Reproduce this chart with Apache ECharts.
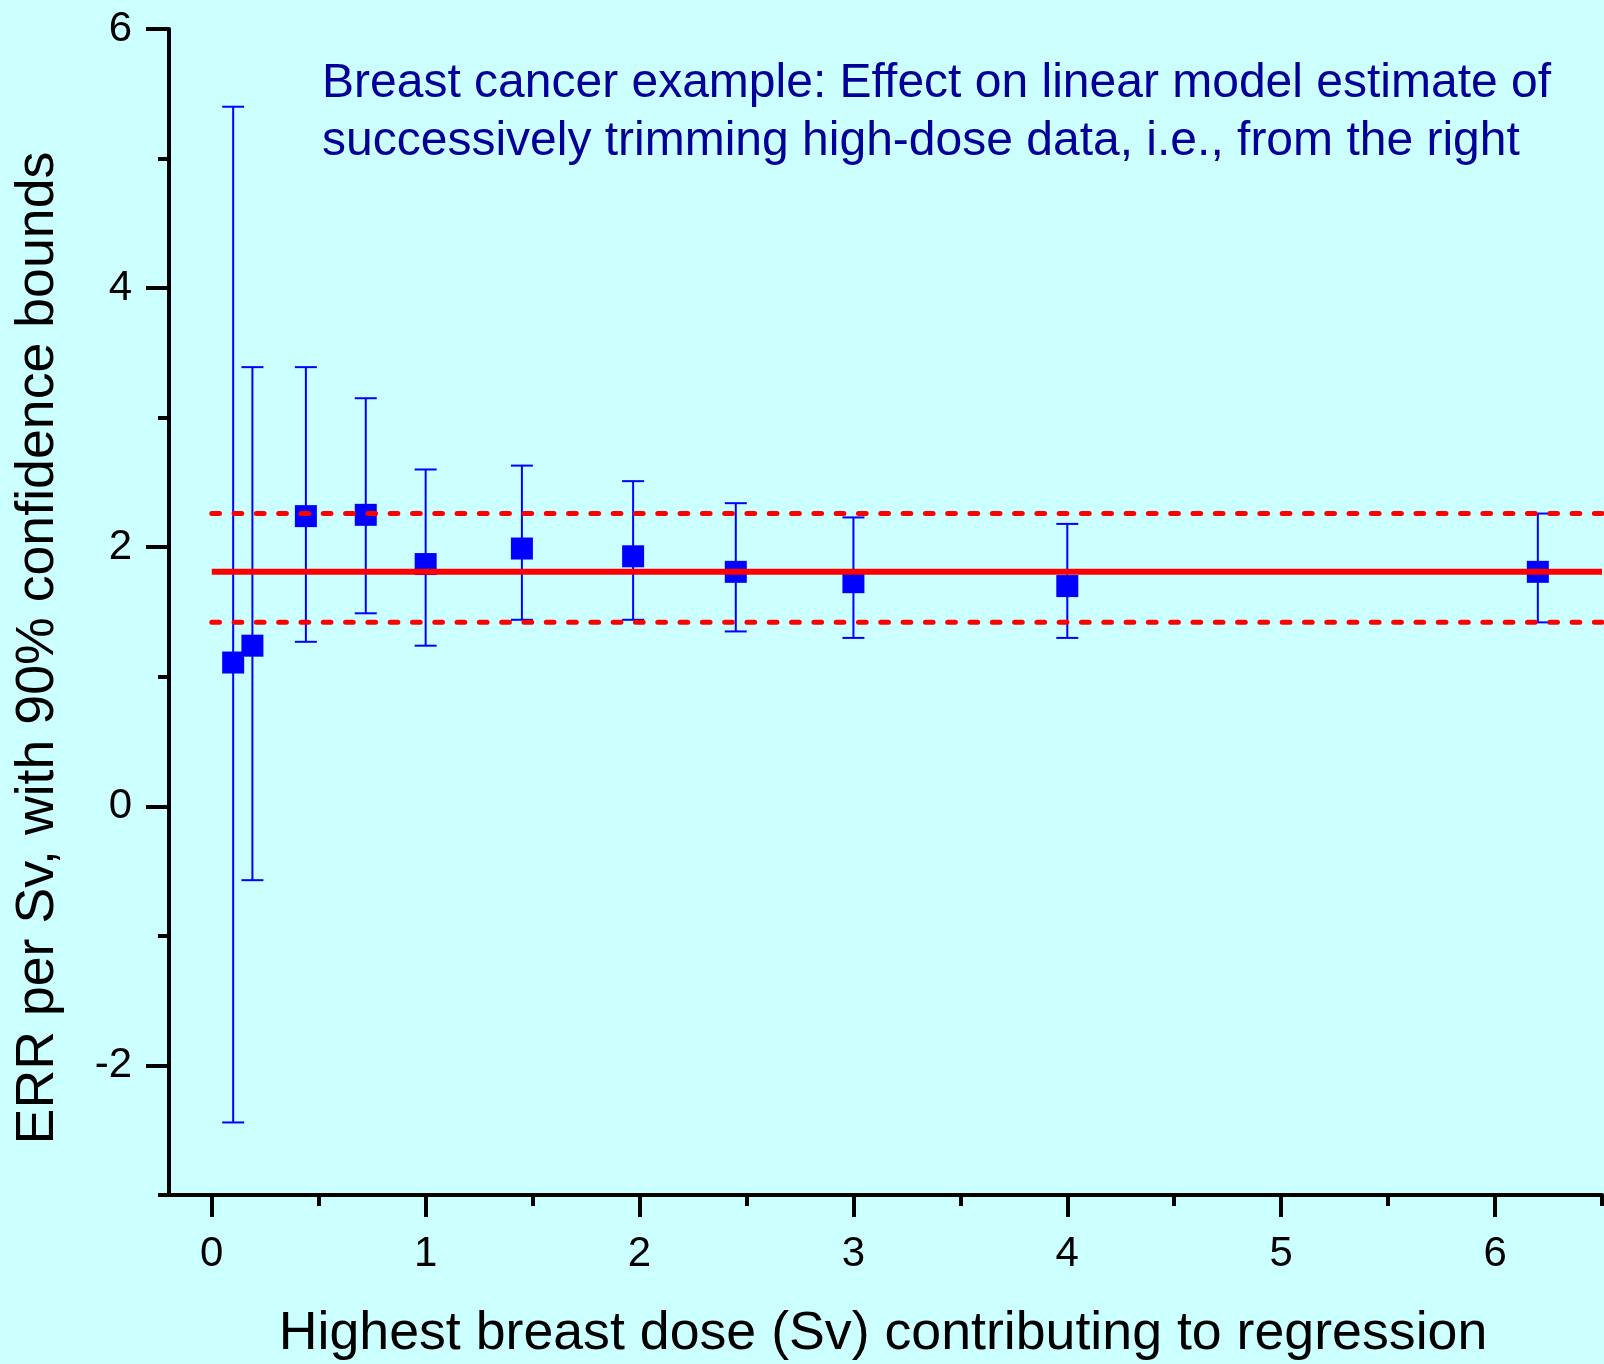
<!DOCTYPE html>
<html>
<head>
<meta charset="utf-8">
<title>Breast cancer ERR per Sv — trimming high-dose data</title>
<script src="https://cdn.jsdelivr.net/npm/echarts@6/dist/echarts.min.js"></script>
<style>
  html, body { margin: 0; padding: 0; background: #CCFFFF; }
  #chart { width: 1604px; height: 1364px; }
</style>
</head>
<body>
<div id="chart"></div>
<script>
// Highest dose kept in each fit (Sv)
const doses = [0.1, 0.19, 0.44, 0.72, 1.0, 1.45, 1.97, 2.45, 3.0, 4.0, 6.2];
// Linear-model ERR per Sv estimate for each trimmed fit
const estimates = [1.11, 1.24, 2.24, 2.25, 1.87, 1.99, 1.93, 1.81, 1.73, 1.70, 1.81];
// 90% confidence bounds
const lowerBounds = [-2.44, -0.57, 1.27, 1.49, 1.24, 1.44, 1.44, 1.35, 1.30, 1.30, 1.42];
const upperBounds = [5.40, 3.39, 3.39, 3.15, 2.60, 2.63, 2.51, 2.34, 2.23, 2.18, 2.26];

// Full-data estimate and its bounds, drawn across the plot
const fullDataEstimate = 1.81;
const fullDataBounds = [1.42, 2.26];

// Axis ticks and labels
const xMajorTicks = [0, 1, 2, 3, 4, 5, 6];
const xMinorTicks = [0.5, 1.5, 2.5, 3.5, 4.5, 5.5, 6.5];
const yMajorTicks = [-2, 0, 2, 4, 6];
const yMinorTicks = [-3, -1, 1, 3, 5];

const xRange = [-0.2, 6.5];
const yRange = [-3, 6];

const titleLines = [
  'Breast cancer example: Effect on linear model estimate of',
  'successively trimming high-dose data, i.e., from the right'
];
const xTitle = 'Highest breast dose (Sv) contributing to regression';
const yTitle = 'ERR per Sv, with 90% confidence bounds';

const FONT = '"Liberation Sans", Arial, Helvetica, sans-serif';

const chart = echarts.init(document.getElementById('chart'), null, { renderer: 'canvas' });

function axisBase(min, max) {
  return {
    type: 'value',
    min: min,
    max: max,
    splitLine: { show: false },
    axisLine: { onZero: false, lineStyle: { color: '#000', width: 4 } },
  };
}

const option = {
  backgroundColor: '#CCFFFF',
  animation: false,
  grid: { left: 169, right: 2, top: 29, bottom: 169, containLabel: false },
  xAxis: [
    Object.assign(axisBase(xRange[0], xRange[1]), {
      position: 'bottom',
      axisTick: { show: true, length: 22, customValues: xMajorTicks, lineStyle: { color: '#000', width: 4 } },
      axisLabel: { show: true, customValues: xMajorTicks, margin: 38, fontSize: 42, fontFamily: FONT, color: '#000' }
    }),
    Object.assign(axisBase(xRange[0], xRange[1]), {
      position: 'bottom',
      axisLine: { show: false, onZero: false },
      axisTick: { show: true, length: 11, customValues: xMinorTicks, lineStyle: { color: '#000', width: 4 } },
      axisLabel: { show: false }
    })
  ],
  yAxis: [
    Object.assign(axisBase(yRange[0], yRange[1]), {
      position: 'left',
      axisTick: { show: true, length: 23, customValues: yMajorTicks, lineStyle: { color: '#000', width: 4 } },
      axisLabel: { show: true, customValues: yMajorTicks, margin: 37, fontSize: 42, fontFamily: FONT, color: '#000' }
    }),
    Object.assign(axisBase(yRange[0], yRange[1]), {
      position: 'left',
      axisLine: { show: false, onZero: false },
      axisTick: { show: true, length: 11, customValues: yMinorTicks, lineStyle: { color: '#000', width: 4 } },
      axisLabel: { show: false }
    })
  ],
  graphic: [
    {
      type: 'text', x: 322, y: 84,
      style: { text: titleLines[0], fontSize: 48, fontFamily: FONT, fill: '#000099', align: 'left', verticalAlign: 'middle' }
    },
    {
      type: 'text', x: 322, y: 142,
      style: { text: titleLines[1], fontSize: 48, fontFamily: FONT, fill: '#000099', align: 'left', verticalAlign: 'middle' }
    },
    {
      type: 'text', x: 883, y: 1334,
      style: { text: xTitle, fontSize: 53.7, fontFamily: FONT, fill: '#000', align: 'center', verticalAlign: 'middle' }
    },
    {
      type: 'text', x: 38, y: 648, rotation: Math.PI / 2,
      style: { text: yTitle, fontSize: 53.7, fontFamily: FONT, fill: '#000', align: 'center', verticalAlign: 'middle' }
    }
  ],
  series: [
    {
      // 90% confidence intervals with end caps
      type: 'custom',
      z: 2,
      data: doses.map((d, i) => [d, lowerBounds[i], upperBounds[i]]),
      renderItem: function (params, api) {
        const x = api.value(0);
        const lo = api.coord([x, api.value(1)]);
        const hi = api.coord([x, api.value(2)]);
        const hw = 11;
        const style = { stroke: '#0000FF', lineWidth: 2 };
        return {
          type: 'group',
          children: [
            { type: 'line', shape: { x1: lo[0], y1: lo[1], x2: hi[0], y2: hi[1] }, style: style },
            { type: 'line', shape: { x1: hi[0] - hw, y1: hi[1], x2: hi[0] + hw, y2: hi[1] }, style: style },
            { type: 'line', shape: { x1: lo[0] - hw, y1: lo[1], x2: lo[0] + hw, y2: lo[1] }, style: style }
          ]
        };
      }
    },
    {
      // point estimates
      type: 'scatter',
      z: 3,
      symbol: 'rect',
      symbolSize: 22,
      itemStyle: { color: '#0000FF', opacity: 1 },
      data: doses.map((d, i) => [d, estimates[i]])
    },
    {
      type: 'line',
      z: 4,
      symbol: 'none',
      silent: true,
      lineStyle: { color: '#FF0000', width: 6 },
      data: [[0, fullDataEstimate], [xRange[1], fullDataEstimate]]
    },
    {
      type: 'line',
      z: 4,
      symbol: 'none',
      silent: true,
      lineStyle: { color: '#FF0000', width: 5, type: [7.7, 14.6], cap: 'round' },
      data: [[0, fullDataBounds[1]], [xRange[1], fullDataBounds[1]]]
    },
    {
      type: 'line',
      z: 4,
      symbol: 'none',
      silent: true,
      lineStyle: { color: '#FF0000', width: 5, type: [7.7, 14.6], cap: 'round' },
      data: [[0, fullDataBounds[0]], [xRange[1], fullDataBounds[0]]]
    }
  ]
};

chart.setOption(option);
</script>
</body>
</html>
